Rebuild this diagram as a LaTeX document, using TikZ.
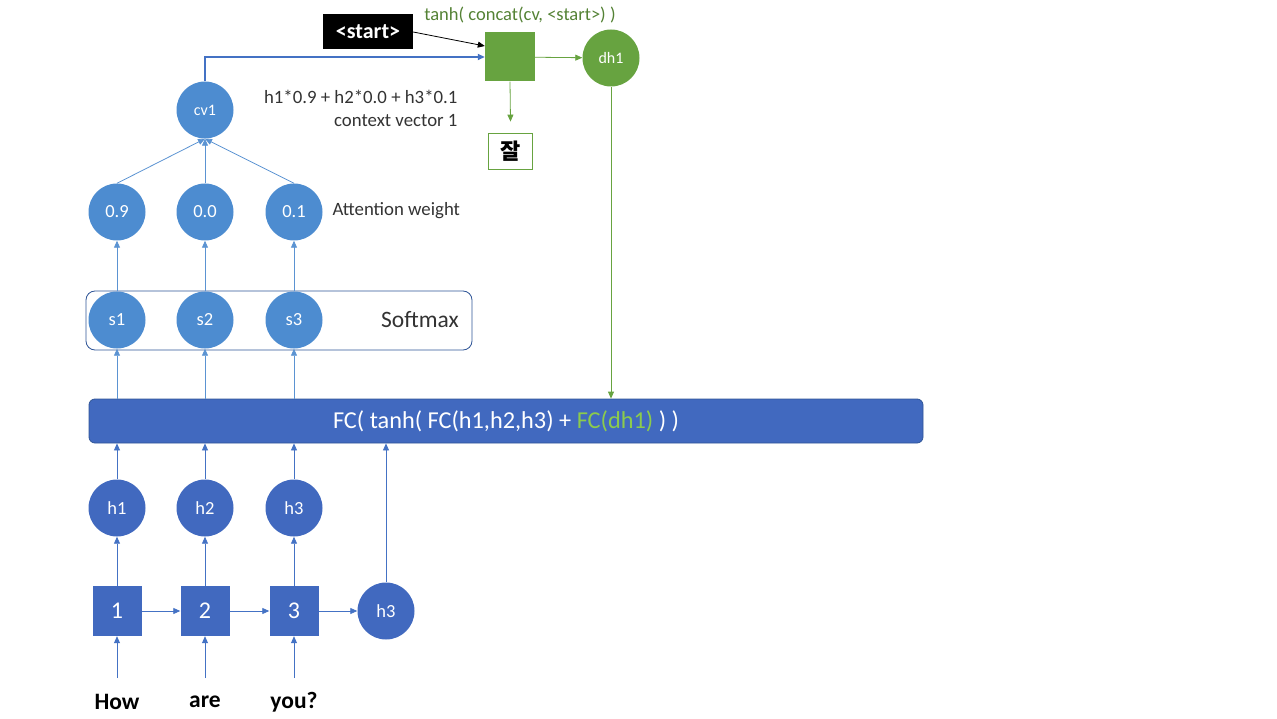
\documentclass[tikz,border=0pt]{standalone}
\usepackage{fontspec}
\setmainfont{Carlito}
\newfontfamily\krfont{Noto Sans CJK KR}
\usetikzlibrary{arrows.meta,positioning}
\definecolor{dblue}{HTML}{4169BF}
\definecolor{dbline}{HTML}{2F5597}
\definecolor{lblue}{HTML}{4D8CD0}
\definecolor{larrow}{HTML}{5B93D2}
\definecolor{darrow}{HTML}{4472C4}
\definecolor{gfill}{HTML}{67A340}
\definecolor{gtext}{HTML}{548235}
\definecolor{lgreen}{HTML}{8CCB4C}
\definecolor{gtxt}{HTML}{333333}
\tikzset{
  x=1pt,y=-1pt,
  tip/.style={-{Triangle[width=6pt,length=7pt]}},
  darr/.style={tip,draw=darrow,line width=0.8pt},
  larr/.style={tip,draw=larrow,line width=0.8pt},
  garr/.style={tip,draw=gfill,line width=0.8pt},
  dcirc/.style={circle,fill=dblue,minimum size=57pt,inner sep=0pt,text=white,font=\fontsize{18.5}{20}\selectfont},
  lcirc/.style={circle,fill=lblue,minimum size=57pt,inner sep=0pt,text=white,font=\fontsize{18.5}{20}\selectfont},
  dsq/.style={rectangle,fill=dblue,minimum width=49pt,minimum height=50pt,inner sep=0pt,text=white,font=\fontsize{24}{28}\selectfont},
  word/.style={font=\bfseries\fontsize{23.5}{27}\selectfont,text=black},
  note/.style={font=\fontsize{18.8}{22}\selectfont,text=gtxt},
}
\begin{document}
\begin{tikzpicture}
\path[use as bounding box] (0,0) rectangle (1277,719);
% inputs
\node[word] (w1) at (117,702) {How};
\node[word] (w2) at (205,702) {are};
\node[word] (w3) at (294,702) {you?};
\coordinate (c1) at (117,678);
\coordinate (c2) at (205,678);
\coordinate (c3) at (294,678);
% squares
\node[dsq] (q1) at (117,611) {1};
\node[dsq] (q2) at (205,611) {2};
\node[dsq] (q3) at (294,611) {3};
\node[dcirc] (hl) at (386,611) {h3};
% h circles
\node[dcirc] (h1) at (117,508) {h1};
\node[dcirc] (h2) at (205,508) {h2};
\node[dcirc] (h3) at (294,508) {h3};
% FC bar
\node[rectangle,rounded corners=6pt,fill=dblue,draw=dbline,line width=0.8pt,minimum width=834pt,minimum height=44pt,inner sep=0pt,text=white,font=\fontsize{24.3}{28}\selectfont] (fc) at (506,421) {FC( tanh( FC(h1,h2,h3) + \textcolor{lgreen}{FC(dh1)} ) )};
% softmax
\node[rectangle,rounded corners=9pt,draw=dbline,line width=0.8pt,fill=white,minimum width=386pt,minimum height=59pt,inner sep=0pt] (sm) at (279,320.5) {};
\node[font=\fontsize{23.5}{27}\selectfont,text=gtxt] (smt) at (420,320) {Softmax};
\node[lcirc] (s1) at (117,320) {s1};
\node[lcirc] (s2) at (205,320) {s2};
\node[lcirc] (s3) at (294,320) {s3};
% weights
\node[lcirc] (a1) at (117,212) {0.9};
\node[lcirc] (a2) at (205,212) {0.0};
\node[lcirc] (a3) at (294,212) {0.1};
\node[note,anchor=west] (aw) at (329,211) {Attention weight};
% cv
\node[lcirc,font=\fontsize{16}{18}\selectfont] (cv) at (205,110) {cv1};
\node[note,anchor=east] (f1) at (461,97) {h1*0.9 + h2*0.0 + h3*0.1};
\node[note,anchor=east] (f2) at (461,121) {context vector 1};
% decoder
\node[rectangle,fill=gfill,minimum width=50pt,minimum height=49pt,inner sep=0pt] (gs) at (510,57) {};
\node[circle,fill=gfill,minimum size=57pt,inner sep=0pt,text=white,font=\fontsize{16}{18}\selectfont] (dh) at (611,58) {dh1};
\node[font=\fontsize{18.5}{22}\selectfont,text=gtext] (tt) at (520,15) {tanh( concat(cv, <start>) )};
\node[rectangle,fill=black,text=white,minimum width=90pt,minimum height=35pt,inner sep=0pt,font=\bfseries\fontsize{22}{26}\selectfont] (st) at (368,32) {<start>};
\node[rectangle,draw=gfill,line width=0.8pt,fill=white,minimum width=44pt,minimum height=36pt,inner sep=0pt,font=\krfont\bfseries\fontsize{22}{26}\selectfont] (jal) at (510.5,151) {잘};
% arrows bottom
\foreach \i in {1,2,3}{
  \draw[darr] (c\i) -- (q\i.south);
  \draw[darr] (q\i) -- (h\i);
  \draw[darr] (h\i) -- (h\i |- fc.south);
  \draw[larr] (fc.north -| s\i) -- (s\i);
  \draw[larr] (s\i) -- (a\i);
}
\draw[darr] (q1) -- (q2);
\draw[darr] (q2) -- (q3);
\draw[darr] (q3) -- (hl);
\draw[darr] (hl) -- (hl |- fc.south);
\draw[larr] (a1.north) -- (cv.south);
\draw[larr] (a2.north) -- (cv.south);
\draw[larr] (a3.north) -- (cv.south);
% top
\draw[tip,draw=darrow,line width=1.8pt] (cv.north) |- (gs.west);
\draw[tip,draw=black,line width=0.8pt] (st.east) -- ([yshift=11pt]gs.west);
\draw[garr] (gs) -- (dh);
\draw[garr] (gs.south) -- ([yshift=11pt]jal.north);
\draw[garr] (dh.south) -- (dh.south |- fc.north);
\end{tikzpicture}
\end{document}
